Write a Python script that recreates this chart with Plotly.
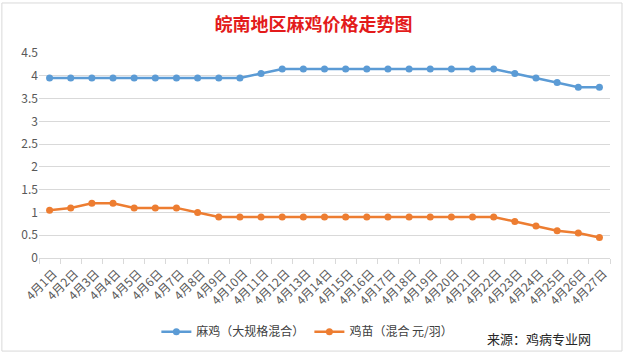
import plotly.graph_objects as go

days = [f"4月{i}日" for i in range(1, 28)]
maji = [3.95]*10 + [4.05] + [4.15]*11 + [4.05, 3.95, 3.85, 3.75, 3.75]
jimiao = [1.05, 1.1, 1.2, 1.2, 1.1, 1.1, 1.1, 1.0] + [0.9]*14 + [0.8, 0.7, 0.6, 0.55, 0.45]
yticks = [0, 0.5, 1, 1.5, 2, 2.5, 3, 3.5, 4, 4.5]
ytick_text = ["0", "0.5", "1", "1.5", "2", "2.5", "3", "3.5", "4", "4.5"]

FONT = "Noto Sans CJK SC"
fig = go.Figure()
fig.add_trace(go.Scatter(x=days, y=maji, mode="lines+markers", name="麻鸡（大规格混合）",
                         line=dict(color="#5B9BD5", width=2.5), marker=dict(size=7, color="#5B9BD5")))
fig.add_trace(go.Scatter(x=days, y=jimiao, mode="lines+markers", name="鸡苗（混合 元/羽）",
                         line=dict(color="#ED7D31", width=2.5), marker=dict(size=7, color="#ED7D31")))

fig.update_layout(
    width=627, height=354,
    margin=dict(l=39, r=17, t=53, b=96, autoexpand=False),
    paper_bgcolor="white", plot_bgcolor="white",
    font=dict(family=FONT, color="#595959", size=12),
    title=dict(text="<b>皖南地区麻鸡价格走势图</b>", x=0.5, xanchor="center", y=0.93, yanchor="middle",
               font=dict(family=FONT, size=18, color="#E31B1B")),
    showlegend=True,
    legend=dict(orientation="h", x=0.47, xanchor="center", y=-0.36, yanchor="middle",
                font=dict(size=12, color="#404040"), bgcolor="rgba(0,0,0,0)"),
    xaxis=dict(type="category", range=[-0.5, len(days) - 0.5], tickangle=-45,
               tickfont=dict(size=12, color="#595959"), ticklabelstandoff=3, ticklabelshift=4,
               showline=True, linecolor="#D9D9D9", linewidth=1, ticks="outside", ticklen=5,
               tickcolor="#D9D9D9", tickson="boundaries", showgrid=False, automargin=False),
    yaxis=dict(range=[0, 4.5], tickvals=yticks, ticktext=ytick_text, showgrid=True,
               gridcolor="#D9D9D9", gridwidth=1, zeroline=False, showline=False, automargin=False,
               tickfont=dict(size=12, color="#595959")),
)
fig.add_annotation(text="来源：鸡病专业网", xref="paper", yref="paper", x=0.97, xanchor="right",
                   y=-0.395, yanchor="middle", showarrow=False,
                   font=dict(family=FONT, size=13, color="#262626"))
fig.add_shape(type="rect", xref="paper", yref="paper", x0=-0.065, x1=1.021, y0=-0.454, y1=1.244,
              line=dict(color="#D9D9D9", width=1))
fig.write_html("out.html")
